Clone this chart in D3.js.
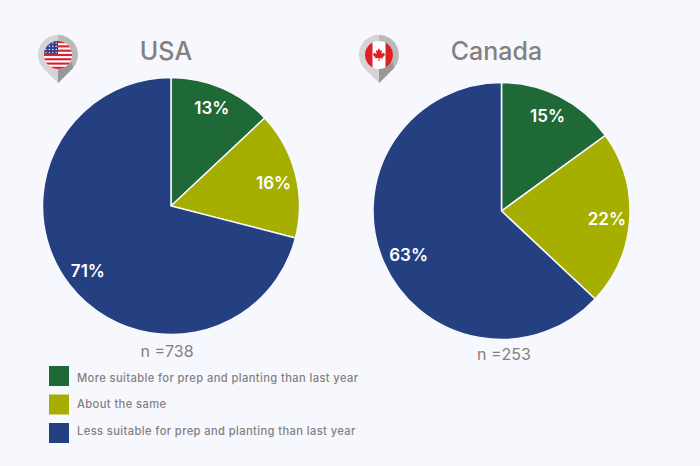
<!DOCTYPE html>
<html>
<head>
<meta charset="utf-8">
<script src="https://cdn.jsdelivr.net/npm/d3@7"></script>
<style>
  html, body { margin: 0; padding: 0; background: #f7f8fe; }
  svg { display: block; font-family: Inter, "Open Sans", sans-serif; }
</style>
</head>
<body>
<div id="vis"></div>
<script>
const width = 700;
const height = 466;

// values
const categories = [
    'More suitable for prep and planting than last year',
    'About the same',
    'Less suitable for prep and planting than last year'
];
const usaValues = [13, 16, 71];
const canadaValues = [15, 22, 63];
const countries = ['USA', 'Canada'];
const sampleSizes = ['n =738', 'n =253'];

const color = d3.scaleOrdinal()
    .domain(categories)
    .range(['#1f6936', '#a6ae00', '#254081']);

const textGrey = '#85807f';

const svg = d3.select('#vis')
    .append('svg')
    .attr('width', width)
    .attr('height', height);

svg.append('rect')
    .attr('width', width)
    .attr('height', height)
    .attr('fill', '#f7f8fe');

const pie = d3.pie().sort(null);
const radius = 128.5;
const arc = d3.arc().innerRadius(0).outerRadius(radius);
const labelArc = d3.arc().innerRadius(radius * 0.72).outerRadius(radius * 0.72);

function drawPie(values, cx, cy, title, titleY, n, nX, nY, labelOffsets) {
    const g = svg.append('g').attr('transform', `translate(${cx},${cy})`);

    g.selectAll('path')
        .data(pie(values))
        .enter()
        .append('path')
        .attr('d', arc)
        .attr('fill', (d, i) => color(categories[i]))
        .attr('stroke', '#f7f8fe')
        .attr('stroke-width', 1.5);

    g.selectAll('text')
        .data(pie(values))
        .enter()
        .append('text')
        .attr('transform', (d, i) => {
            const c = labelArc.centroid(d);
            return `translate(${c[0] + labelOffsets[i][0]},${c[1] + labelOffsets[i][1]})`;
        })
        .attr('text-anchor', 'middle')
        .attr('dy', '0.35em')
        .attr('fill', '#fff')
        .style('font-size', '17px')
        .style('font-weight', 600)
        .text(d => d.data + '%');

    svg.append('text')
        .attr('x', cx - 5)
        .attr('y', titleY)
        .attr('text-anchor', 'middle')
        .attr('fill', textGrey)
        .style('font-size', '25px')
        .style('font-weight', 500)
        .text(title);

    svg.append('text')
        .attr('x', nX)
        .attr('y', nY)
        .attr('text-anchor', 'middle')
        .attr('fill', textGrey)
        .style('font-size', '16px')
        .text(n);
}

drawPie(usaValues, 171, 206, countries[0], 60, sampleSizes[0], 167, 357, [[4, -13], [13, 0], [-10, 8]]);
drawPie(canadaValues, 501.5, 211, countries[1], 60, sampleSizes[1], 504, 360, [[4, -13], [13, 2], [-8, 7]]);

// legend
const legend = svg.selectAll('.legend')
    .data(categories)
    .enter()
    .append('g')
    .attr('class', 'legend');

legend.append('rect')
    .attr('x', 49)
    .attr('y', (d, i) => 366 + i * 28.5)
    .attr('width', 20)
    .attr('height', 20)
    .attr('fill', d => color(d));

legend.append('text')
    .attr('x', 77)
    .attr('y', (d, i) => 378 + i * 26.5)
    .attr('dy', '0.35em')
    .attr('fill', textGrey)
    .style('font-size', '11.2px')
    .style('font-weight', 500)
    .style('letter-spacing', '0.38px')
    .text(d => d);

// map pin shared by both flags
function drawPin(cx, cy) {
    const pin = svg.append('g').attr('transform', `translate(${cx},${cy})`);
    const outline = 'M0,28 L-15,13 A20,20 0 1,1 15,13 Z';
    pin.append('path').attr('d', outline).attr('fill', '#d5d5d6');
    pin.append('path').attr('d', 'M0,28 L0,-20 A20,20 0 0,1 15,13 Z').attr('fill', '#b9b9ba');
    pin.append('path').attr('d', 'M0,28 L0,14 L14,7 L15,13 Z').attr('fill', '#97979a');
    const clipId = 'clip' + cx;
    pin.append('clipPath').attr('id', clipId).append('circle').attr('r', 14);
    return pin.append('g').attr('clip-path', `url(#${clipId})`);
}

const usFlag = drawPin(58, 55);
usFlag.append('rect').attr('x', -14).attr('y', -14).attr('width', 28).attr('height', 28).attr('fill', '#fff');
d3.range(7).forEach(i => {
    usFlag.append('rect')
        .attr('x', -14)
        .attr('y', -14 + i * 4.3)
        .attr('width', 28)
        .attr('height', 2.15)
        .attr('fill', '#d2232f');
});
usFlag.append('rect').attr('x', -14).attr('y', -14).attr('width', 14).attr('height', 13).attr('fill', '#33408f');
d3.range(4).forEach(r => d3.range(4).forEach(c => {
    usFlag.append('circle')
        .attr('cx', -12 + c * 3.4)
        .attr('cy', -12 + r * 3.2)
        .attr('r', 0.7)
        .attr('fill', '#fff');
}));

const caFlag = drawPin(379, 55);
caFlag.append('rect').attr('x', -14).attr('y', -14).attr('width', 28).attr('height', 28).attr('fill', '#fff');
caFlag.append('rect').attr('x', -14).attr('y', -14).attr('width', 7.5).attr('height', 28).attr('fill', '#dd1f26');
caFlag.append('rect').attr('x', 6.5).attr('y', -14).attr('width', 7.5).attr('height', 28).attr('fill', '#dd1f26');
caFlag.append('path')
    .attr('d', 'M0,-7 L1.5,-4 L3,-5 L2.5,-1 L5,-2.5 L5.5,-1 L6,0 L3.5,2.5 L4,3.5 L0.5,3 L0.5,6 L-0.5,6 L-0.5,3 L-4,3.5 L-3.5,2.5 L-6,0 L-5.5,-1 L-5,-2.5 L-2.5,-1 L-3,-5 L-1.5,-4 Z')
    .attr('fill', '#dd1f26');
</script>
</body>
</html>
